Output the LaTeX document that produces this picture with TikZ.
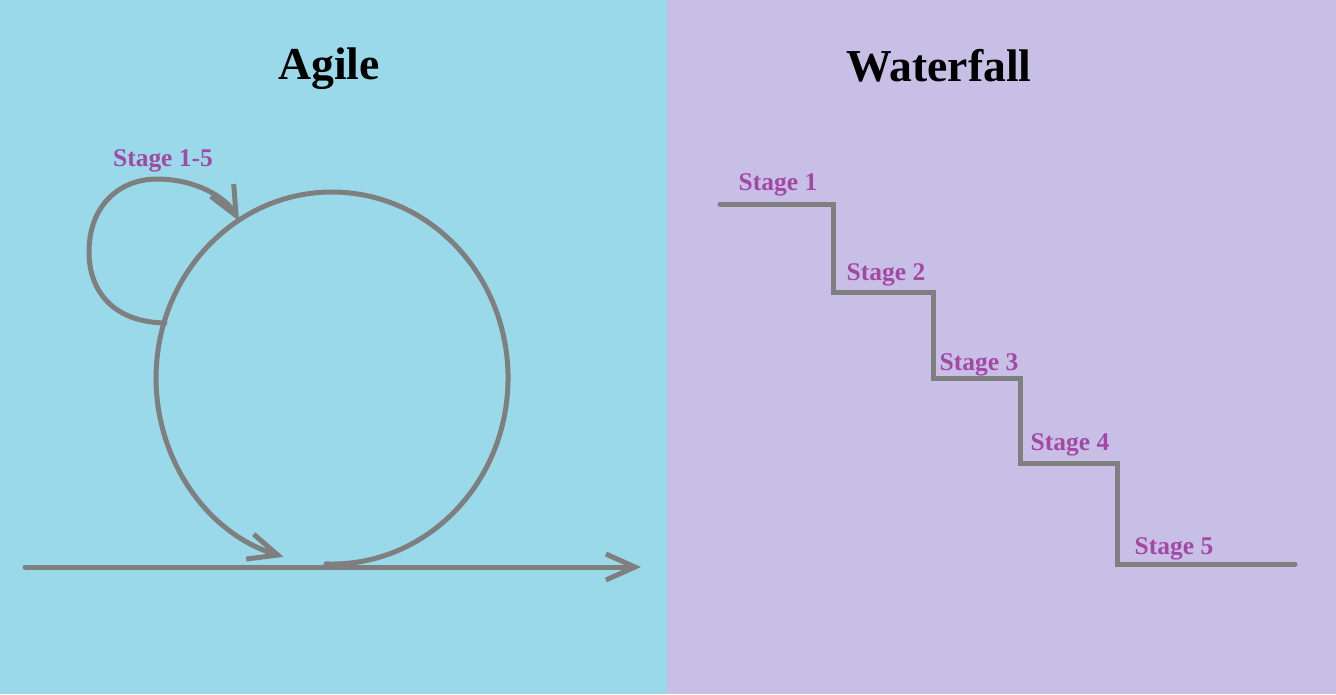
\documentclass[tikz,border=0pt]{standalone}
\usepackage{fontspec}
\setmainfont{Liberation Serif}
\usetikzlibrary{arrows.meta}
\definecolor{agileblue}{HTML}{99D9EA}
\definecolor{waterlilac}{HTML}{C8BFE7}
\definecolor{pengray}{HTML}{7F7F7F}
\definecolor{stagepurple}{HTML}{A349A4}
\tikzset{
    pen/.style={draw=pengray, line width=0.1cm, line cap=round},
    barb/.style={-{Straight Barb[length=0.58cm, width=0.52cm, line width=0.1cm]}},
    title/.style={font=\fontsize{26}{30}\selectfont\bfseries, text=black},
    stagelabel/.style={font=\fontsize{14.5}{17}\selectfont\bfseries, text=stagepurple}
}
\begin{document}
\begin{tikzpicture}[x=0.02cm, y=-0.02cm]
    % Define panel dimensions (in pixels)
    \def\picwidth{1336};
    \def\picheight{694};
    \def\splitx{667};
    \useasboundingbox (0,0) rectangle (\picwidth,\picheight);

    % Draw the two backgrounds
    \fill[agileblue] (0,0) rectangle (\splitx,\picheight);
    \fill[waterlilac] (\splitx,0) rectangle (\picwidth,\picheight);

    \node[title] (agiletitle) at (329,69) {Agile};
    \node[title] (watertitle) at (939,66) {Waterfall};

    % Agile: time line, big loop and small loop
    \coordinate (axisstart) at (25,567);
    \coordinate (axisend) at (641,567);
    \draw[pen, barb] (axisstart) -- (axisend);

    \coordinate (bigstart) at (325.9,563.9);
    \draw[pen, barb] (bigstart) arc[start angle=92, end angle=-254, x radius=176, y radius=186];

    \coordinate (smallstart) at (165,323);
    \coordinate (smalltip) at (239,221);
    \draw[pen, barb] (smallstart) .. controls (112,322) and (89,290) .. (89,252)
        .. controls (89,205) and (120,179) .. (157,179)
        .. controls (195,179) and (226,197) .. (smalltip);
    \node[stagelabel] (stageall) at (163,161) {Stage 1-5};

    % Waterfall: the staircase
    \coordinate (step0) at (720,204);
    \coordinate (step1) at (833,292);
    \coordinate (step2) at (933,378);
    \coordinate (step3) at (1020,463);
    \coordinate (step4) at (1117,564);
    \coordinate (step5) at (1295,564);
    \draw[pen, line join=miter] (step0) -| (step1) -| (step2) -| (step3) -| (step4) -- (step5);

    \foreach \n/\x/\y in {1/778/185, 2/886/275, 3/979/365, 4/1070/445, 5/1174/549} {
        \node[stagelabel] (stage\n) at (\x,\y) {Stage \n};
    }
\end{tikzpicture}
\end{document}
